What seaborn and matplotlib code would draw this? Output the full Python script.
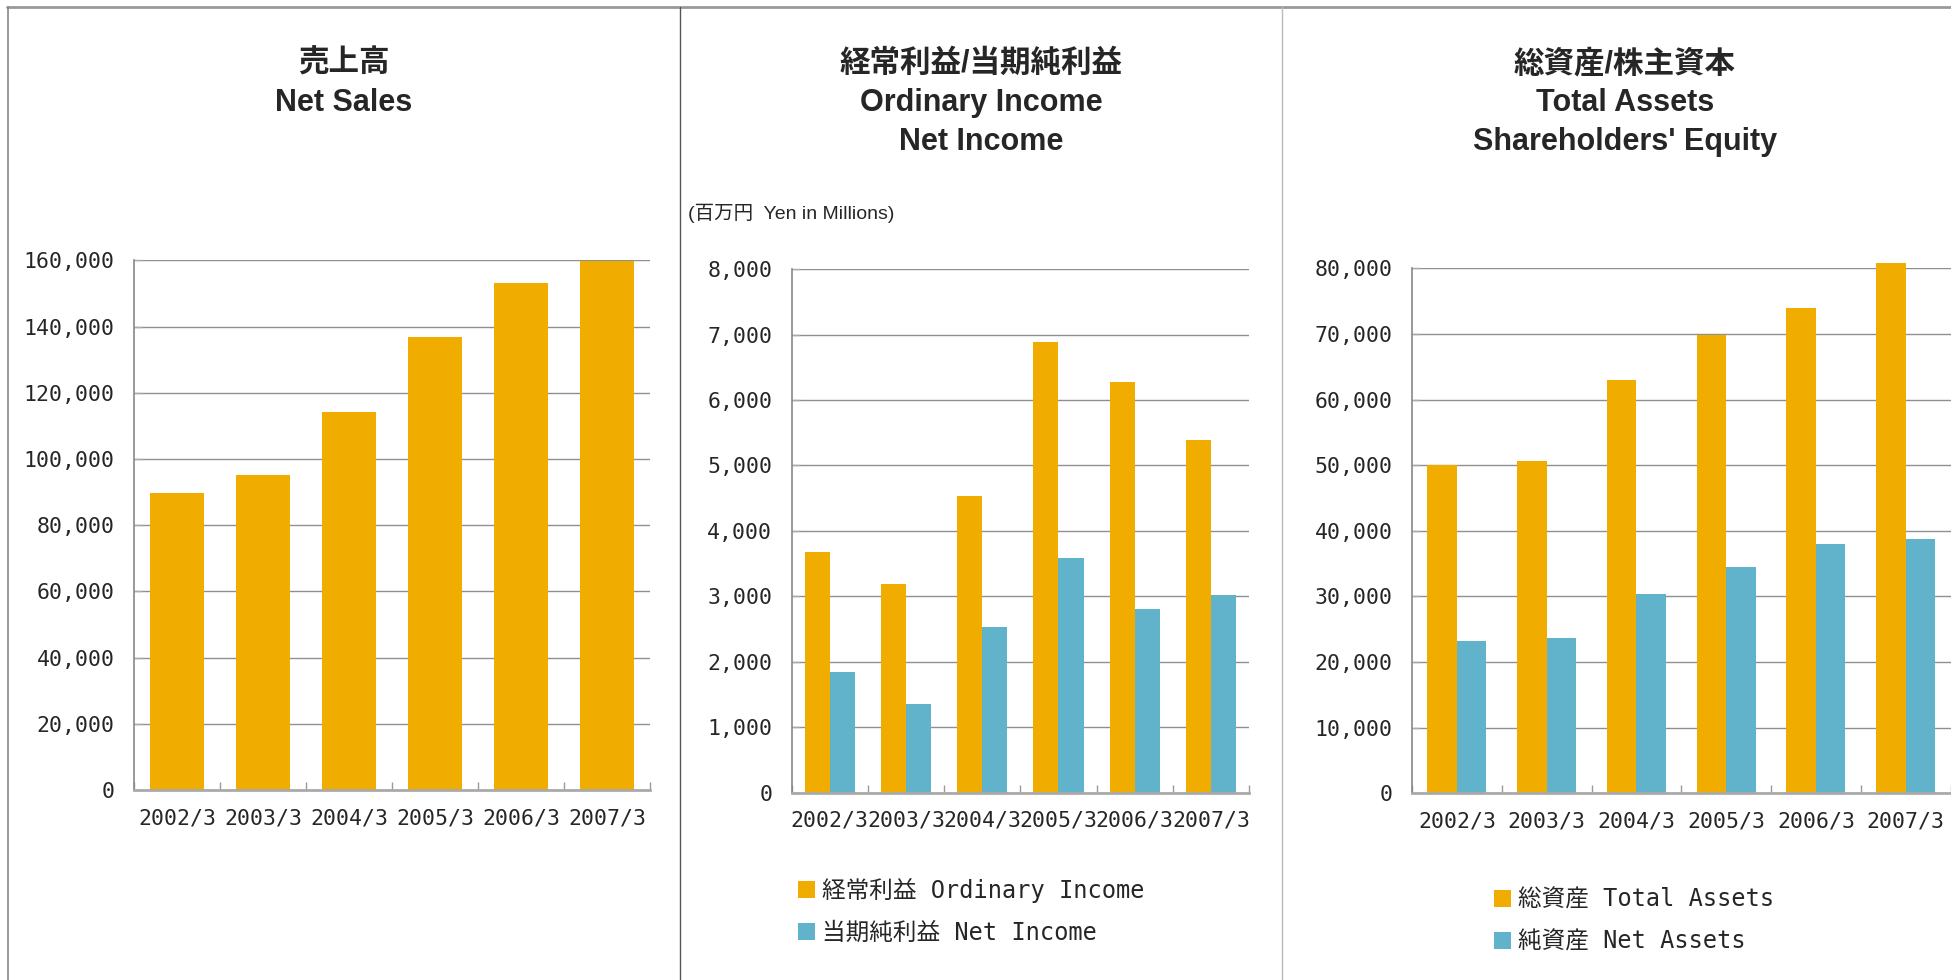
# 3連の業績グラフ (売上高 / 利益 / 資産)
import numpy as np
import pandas as pd
import matplotlib
matplotlib.use('Agg')
import matplotlib.pyplot as plt
import seaborn as sns
from matplotlib.lines import Line2D
from matplotlib.ticker import FuncFormatter, FixedLocator, FixedFormatter, MultipleLocator, NullFormatter

# データ
years = ['2002/3', '2003/3', '2004/3', '2005/3', '2006/3', '2007/3']
net_sales = [89650, 95100, 114100, 136750, 153050, 159700]
ordinary_income = [3680, 3190, 4530, 6890, 6280, 5390]
net_income = [1850, 1360, 2530, 3580, 2800, 3020]
total_assets = [50000, 50660, 63000, 69850, 73960, 80810]
net_assets = [23200, 23650, 30350, 34470, 37970, 38730]

label_oi = '経常利益 Ordinary Income'
label_ni = '当期純利益 Net Income'
label_ta = '総資産 Total Assets'
label_na = '純資産 Net Assets'

ORANGE = '#F0AD00'
BLUE = '#61B3CC'

W, H = 1951, 980

sns.set_theme(style='white')
plt.rcParams['font.family'] = ['DejaVu Sans Mono', 'Noto Sans CJK JP']
title_font = ['Liberation Sans', 'Noto Sans CJK JP']

fig = plt.figure(figsize=(W / 100, H / 100), dpi=100)


def px_axes(left, right, top, bottom):
    return fig.add_axes([left / W, 1 - bottom / H, (right - left) / W, (bottom - top) / H])


def style_axes(ax, ymax, step):
    ax.set_ylim(0, ymax)
    ax.set_xlim(-0.5, 5.5)
    ax.yaxis.set_major_locator(MultipleLocator(step))
    ax.yaxis.set_major_formatter(FuncFormatter(lambda v, p: f'{int(v):,}'))
    ax.grid(axis='y', color='#8f8f8f', linewidth=1.0)
    ax.grid(axis='x', visible=False)
    ax.set_axisbelow(True)
    # 区切り目盛りはカテゴリの境界、ラベルは中央
    ax.xaxis.set_major_locator(FixedLocator(np.arange(-0.5, 6, 1)))
    ax.xaxis.set_major_formatter(NullFormatter())
    ax.xaxis.set_minor_locator(FixedLocator(range(len(years))))
    ax.xaxis.set_minor_formatter(FixedFormatter(years))
    ax.tick_params(axis='x', which='major', direction='in', length=6, width=1, color='#999999', bottom=True)
    ax.tick_params(axis='x', which='minor', length=0, pad=13, labelsize=15.5, bottom=True)
    ax.tick_params(axis='y', direction='in', length=6, width=1, color='#aaaaaa', pad=14, labelsize=15.5, left=True)
    ax.set_xlabel('')
    ax.set_ylabel('')
    for s in ['top', 'right']:
        ax.spines[s].set_visible(False)
    ax.spines['left'].set_color('#888888')
    ax.spines['left'].set_linewidth(1.2)
    ax.spines['bottom'].set_color('#aaaaaa')
    ax.spines['bottom'].set_linewidth(2)


# 売上高
ax1 = px_axes(134, 650, 260.3, 790)
sns.barplot(x=years, y=net_sales, color=ORANGE, saturation=1, width=0.63,
            linewidth=0, edgecolor='none', ax=ax1)
style_axes(ax1, 160000, 20000)

# 経常利益/当期純利益
ax2 = px_axes(791.7, 1249, 269.3, 792.5)
df2 = pd.DataFrame({'year': years * 2,
                    'value': ordinary_income + net_income,
                    'series': [label_oi] * 6 + [label_ni] * 6})
sns.barplot(data=df2, x='year', y='value', hue='series', palette=[ORANGE, BLUE],
            saturation=1, width=0.66, linewidth=0, edgecolor='none', ax=ax2)
style_axes(ax2, 8000, 1000)

# 総資産/株主資本
ax3 = px_axes(1412, 1950.5, 268.3, 793.3)
df3 = pd.DataFrame({'year': years * 2,
                    'value': total_assets + net_assets,
                    'series': [label_ta] * 6 + [label_na] * 6})
sns.barplot(data=df3, x='year', y='value', hue='series', palette=[ORANGE, BLUE],
            saturation=1, width=0.655, linewidth=0, edgecolor='none', ax=ax3)
style_axes(ax3, 80000, 10000)
for p in ax3.patches:
    p.set_clip_on(False)

# 凡例
for ax, x0, y0 in [(ax2, 798, 878), (ax3, 1494, 888)]:
    handles, labels = ax.get_legend_handles_labels()
    ax.get_legend().remove()
    fig.legend(handles, labels, loc='upper left', bbox_to_anchor=(x0 / W, 1 - y0 / H),
               frameon=False, fontsize=17, handlelength=0.7, handleheight=0.7,
               handletextpad=0.3, labelspacing=0.75, borderpad=0, borderaxespad=0)

# タイトル
titles = [
    (344, ['売上高', 'Net Sales']),
    (981, ['経常利益/当期純利益', 'Ordinary Income', 'Net Income']),
    (1625, ['総資産/株主資本', 'Total Assets', "Shareholders' Equity"]),
]
line_y = [64, 103, 142]
for cx, lines in titles:
    for s, y in zip(lines, line_y):
        fig.text(cx / W, 1 - y / H, s, ha='center', va='center', fontsize=22,
                 fontweight='bold', family=title_font)

fig.text(688 / W, 1 - 213 / H, '(百万円  Yen in Millions)', ha='left', va='center',
         fontsize=14, family=title_font)

# パネルの枠線
fig.add_artist(Line2D([7 / W, 1], [1 - 7 / H, 1 - 7 / H], color='#999999', lw=2, transform=fig.transFigure))
fig.add_artist(Line2D([8 / W, 8 / W], [0, 1 - 7 / H], color='#888888', lw=1.2, transform=fig.transFigure))
fig.add_artist(Line2D([680 / W, 680 / W], [0, 1 - 7 / H], color='#555555', lw=1.0, transform=fig.transFigure))
fig.add_artist(Line2D([1282 / W, 1282 / W], [0, 1 - 7 / H], color='#bbbbbb', lw=1.0, transform=fig.transFigure))

fig.savefig('out.png', dpi=100)
